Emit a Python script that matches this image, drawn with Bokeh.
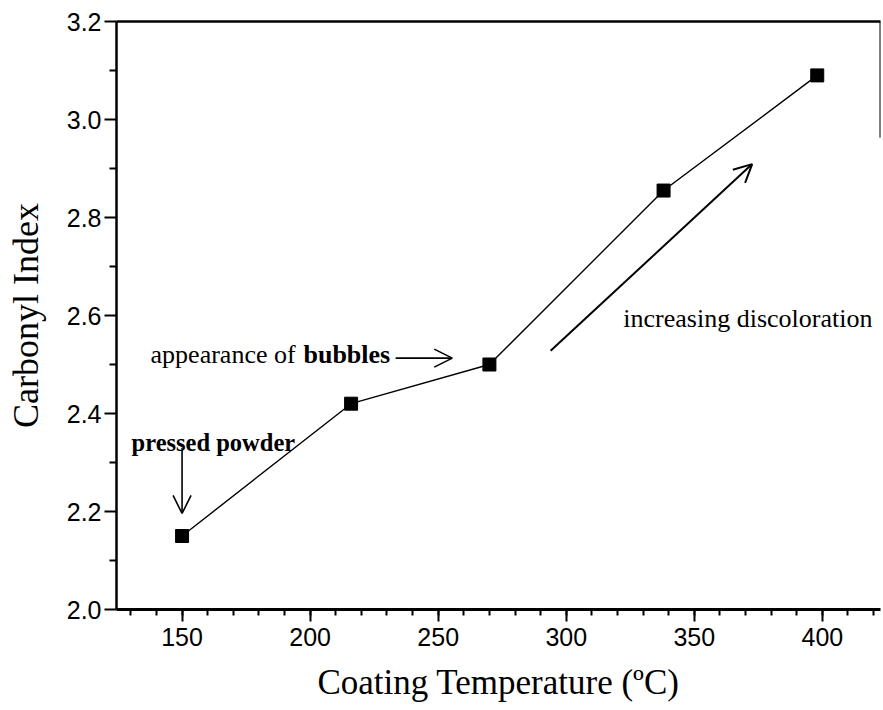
from bokeh.plotting import figure
from bokeh.models import (FixedTicker, LinearAxis, Arrow, OpenHead, Label,
                          ColumnDataSource, Range1d, PrintfTickFormatter)
from bokeh.embed import file_html
from bokeh.resources import INLINE

# Carbonyl index of coatings versus coating temperature
temperature = [150, 216, 270, 338, 398]
carbonyl_index = [2.15, 2.42, 2.50, 2.855, 3.09]

x_major = [150, 200, 250, 300, 350, 400]
x_minor = list(range(130, 430, 10))
y_major = [2.0, 2.2, 2.4, 2.6, 2.8, 3.0, 3.2]
y_minor = [2.1, 2.3, 2.5, 2.7, 2.9, 3.1]

X_START, X_END = 124.4, 422.7
Y_START, Y_END = 2.0, 3.2

SERIF = "Liberation Serif"
SANS = "Liberation Sans"

p = figure(width=883, height=710,
           x_range=Range1d(X_START, X_END), y_range=Range1d(Y_START, Y_END),
           output_backend="svg", toolbar_location=None,
           min_border_left=116, min_border_right=3,
           min_border_top=21, min_border_bottom=101)
p.outline_line_color = None
p.xgrid.visible = False
p.ygrid.visible = False
p.background_fill_color = "white"
p.border_fill_color = "white"

# bottom axis
xa = p.xaxis[0]
xa.ticker = FixedTicker(ticks=x_major, minor_ticks=x_minor)
xa.axis_label = "Coating Temperature (ºC)"
xa.axis_label_text_font = SERIF
xa.axis_label_text_font_style = "normal"
xa.axis_label_text_font_size = "35px"
xa.axis_label_text_color = "black"
xa.axis_label_standoff = 14
xa.major_label_text_font = SANS
xa.major_label_text_font_size = "25px"
xa.major_label_text_color = "black"
xa.major_label_standoff = 6
xa.axis_line_width = 3
xa.axis_line_color = "black"
xa.major_tick_line_width = 2
xa.major_tick_line_color = "black"
xa.major_tick_out = 12
xa.major_tick_in = 0
xa.minor_tick_line_width = 2
xa.minor_tick_line_color = "black"
xa.minor_tick_out = 6
xa.minor_tick_in = 0

# left axis
ya = p.yaxis[0]
ya.ticker = FixedTicker(ticks=y_major, minor_ticks=y_minor)
ya.formatter = PrintfTickFormatter(format="%.1f")
ya.axis_label = "Carbonyl Index"
ya.axis_label_text_font = SERIF
ya.axis_label_text_font_style = "normal"
ya.axis_label_text_font_size = "36px"
ya.axis_label_text_color = "black"
ya.axis_label_standoff = 18
ya.major_label_text_font = SANS
ya.major_label_text_font_size = "25px"
ya.major_label_text_color = "black"
ya.major_label_standoff = 3
ya.axis_line_width = 2.5
ya.axis_line_color = "black"
ya.major_tick_line_width = 2
ya.major_tick_line_color = "black"
ya.major_tick_out = 12
ya.major_tick_in = 0
ya.minor_tick_line_width = 2
ya.minor_tick_line_color = "black"
ya.minor_tick_out = 7
ya.minor_tick_in = 0

# top frame line
top = LinearAxis(ticker=FixedTicker(ticks=[]), major_label_text_font_size="0px",
                 major_tick_line_color=None, minor_tick_line_color=None,
                 axis_line_width=2.5, axis_line_color="black")
p.add_layout(top, "above")

# short right frame piece
p.segment(x0=[X_END], y0=[Y_END], x1=[X_END], y1=[2.963],
          line_color="black", line_width=2)

# data series
src = ColumnDataSource(data=dict(x=temperature, y=carbonyl_index))
p.line("x", "y", source=src, line_color="black", line_width=1.4)
p.scatter("x", "y", source=src, marker="square", size=13,
          fill_color="black", line_color="black")

# annotations
def add_label(x, y, text, size="26px", style="normal"):
    p.add_layout(Label(x=x, y=y, text=text, text_font=SERIF,
                       text_font_size=size, text_font_style=style,
                       text_color="black", text_align="left",
                       text_baseline="alphabetic"))

def add_arrow(x0, y0, x1, y1, width=1.6, head=18):
    p.add_layout(Arrow(x_start=x0, y_start=y0, x_end=x1, y_end=y1,
                       line_color="black", line_width=width,
                       end=OpenHead(size=head, line_width=width,
                                    line_color="black")))

add_label(130.3, 2.340, "pressed powder", size="24.5px", style="bold")
add_arrow(temperature[0], 2.330, temperature[0], 2.196)

add_label(137.7, 2.521, "appearance of")
add_label(197.4, 2.521, "bubbles", style="bold")
add_arrow(233.4, 2.513, 255.5, 2.513)

add_label(322.3, 2.593, "increasing discoloration")
add_arrow(293.9, 2.528, 372.6, 2.909, width=2)

open("out.html", "w").write(file_html(p, INLINE))
